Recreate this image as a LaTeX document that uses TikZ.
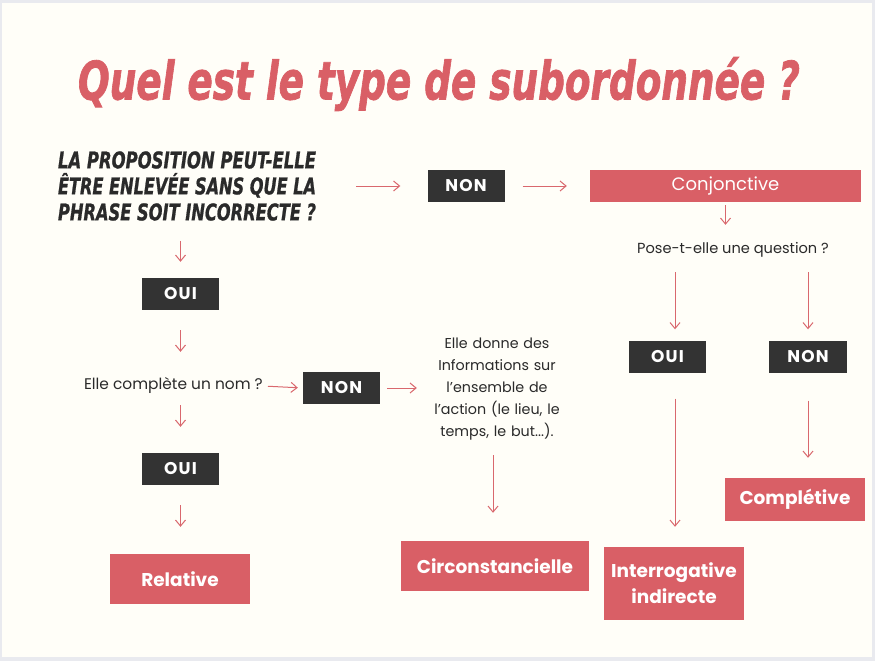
\documentclass[tikz,border=0pt]{standalone}
\usepackage{fontspec}
\usetikzlibrary{arrows.meta}
\setmainfont{Poppins}
\newfontfamily\lab{Poppins}
\newfontfamily\brush{DejaVu Sans Condensed}
\definecolor{bggray}{HTML}{E9EAEF}
\definecolor{cream}{HTML}{FFFEF8}
\definecolor{rosso}{HTML}{D95F66}
\definecolor{dark}{HTML}{333333}
\definecolor{arrc}{HTML}{D9686E}
\definecolor{txt}{HTML}{2A2A2A}
\tikzset{
  darkbox/.style={fill=dark,text=white,minimum width=77pt,minimum height=32pt,inner sep=0pt,
    font=\lab\bfseries\fontsize{17}{17}\selectfont\addfontfeature{LetterSpace=7}},
  redbox/.style={fill=rosso,text=white,inner sep=0pt,align=center,
    font=\lab\bfseries\fontsize{18.5}{26}\selectfont},
  body/.style={text=txt,inner sep=0pt,align=center,font=\fontsize{13.5}{22}\selectfont},
  arr/.style={draw=arrc,line width=1pt,-{Straight Barb[length=6pt,width=10pt]}},
}
\newcommand{\qline}[1]{\resizebox{258pt}{\height}{\brush\bfseries\itshape\addfontfeature{FakeBold=1}\fontsize{23}{23}\selectfont #1}}
\begin{document}
\begin{tikzpicture}[x=1pt,y=-1pt]
\fill[bggray] (0,0) rectangle (875,661);
\fill[cream] (2,3) rectangle (872,657);
\useasboundingbox (0,0) rectangle (875,661);
% title
\node[text=rosso,inner sep=0pt] (title) at (439,84)
  {\resizebox{722pt}{\height}{\brush\bfseries\itshape\addfontfeature{FakeBold=1.5}\fontsize{53}{53}\selectfont Quel est le type de subordonnée ?}};
% question
\node[text=txt,inner sep=0pt,align=center,font=\fontsize{23}{26}\selectfont] (q) at (187,186)
  {\qline{LA PROPOSITION PEUT-ELLE}\\\qline{ÊTRE ENLEVÉE SANS QUE LA}\\\qline{PHRASE SOIT INCORRECTE ?}};
% right branch
\node[darkbox] (non1) at (466,186) {NON};
\node[redbox,font=\lab\fontsize{18}{20}\selectfont,minimum width=271pt,minimum height=32pt] (conj) at (725.5,186) {Conjonctive};
\node[body,font=\fontsize{14.6}{22}\selectfont,text height=10pt,text depth=3pt] (pose) at (733,250) {Pose-t-elle une question ?};
\node[darkbox] (oui2) at (667.5,356.5) {OUI};
\node[darkbox,minimum width=78pt] (non3) at (808,356.5) {NON};
\node[redbox,minimum width=140pt,minimum height=73pt] (inter) at (674,583.5) {Interrogative\\indirecte};
\node[redbox,minimum width=140pt,minimum height=43pt] (compl) at (795,499.5) {Complétive};
% left branch
\node[darkbox] (oui1) at (180.5,294) {OUI};
\node[body,font=\fontsize{15.4}{22}\selectfont,text height=10pt,text depth=3pt,anchor=east] (nom) at (263,386) {Elle complète un nom ?};
\node[darkbox] (non2) at (341.5,388) {NON};
\node[body,font=\fontsize{14.3}{22}\selectfont,text width=132pt] (info) at (497,389)
  {Elle donne des\\Informations sur\\l'ensemble de\\l'action (le lieu, le\\temps, le but...).};
\node[redbox,minimum width=188pt,minimum height=50pt] (circ) at (495,566) {Circonstancielle};
\node[darkbox] (oui3) at (180.5,469) {OUI};
\node[redbox,minimum width=140pt,minimum height=50pt] (rel) at (180,579) {Relative};
% arrows
\draw[arr,shorten <=40pt,shorten >=27pt] (q.east) -- (non1.west);
\draw[arr,shorten <=18pt,shorten >=23pt] (non1.east) -- (conj.west);
\draw[arr,shorten <=3pt,shorten >=18.5pt] (conj.south) -- (conj.south |- pose.north);
\draw[arr,shorten <=15.5pt,shorten >=11pt] ([xshift=7.5pt]oui2.north |- pose.south) -- ([xshift=7.5pt]oui2.north);
\draw[arr,shorten <=15.5pt,shorten >=11pt] (non3.north |- pose.south) -- (non3.north);
\draw[arr,shorten <=26pt,shorten >=20pt] ([xshift=7.5pt]oui2.south) -- ([xshift=7.5pt]oui2.south |- inter.north);
\draw[arr,shorten <=28pt,shorten >=20pt] (non3.south) -- (non3.south |- compl.north);
\draw[arr,shorten <=20pt,shorten >=16pt] (oui1.north |- q.south) -- (oui1.north);
\draw[arr,shorten <=20pt,shorten >=27.5pt] (oui1.south) -- (oui1.south |- nom.north);
\draw[arr,shorten <=5pt,shorten >=5pt] (nom.east) -- (non2.west);
\draw[arr,shorten <=7pt,shorten >=14pt] (non2.east) -- (non2.east -| info.west);
\draw[arr,shorten <=15pt,shorten >=28pt] ([xshift=-2pt]circ.north |- info.south) -- ([xshift=-2pt]circ.north);
\draw[arr,shorten <=12.5pt,shorten >=26pt] (oui3.north |- nom.south) -- (oui3.north);
\draw[arr,shorten <=20pt,shorten >=27pt] (oui3.south) -- (oui3.south |- rel.north);
\end{tikzpicture}
\end{document}
